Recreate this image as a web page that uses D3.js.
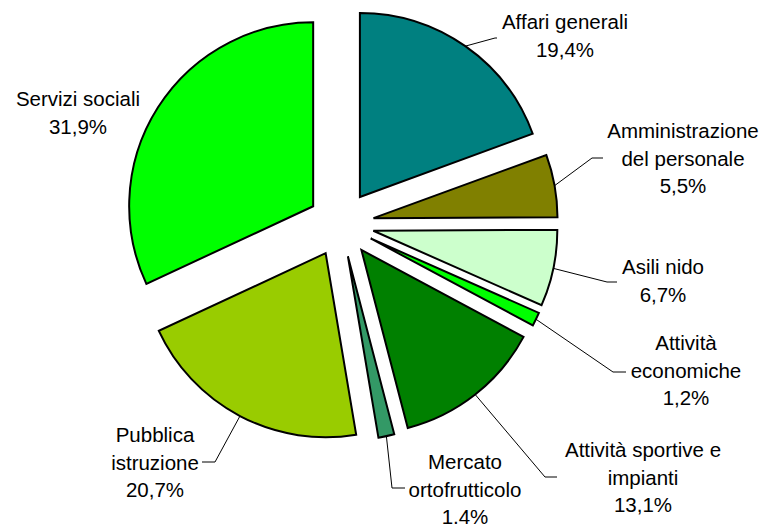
<!DOCTYPE html>
<html>
<head>
<meta charset="utf-8">
<script src="https://cdn.jsdelivr.net/npm/d3@7"></script>
<style>
  body { margin: 0; background: #fff; }
  svg text { font-family: "Liberation Sans", Arial, Helvetica, sans-serif; font-size: 20.5px; fill: #000; }
</style>
</head>
<body>
<svg width="769" height="524"></svg>
<script>
// data, clockwise from 12 o'clock
const categories = ['Affari generali', 'Amministrazione del personale', 'Asili nido', 'Attività economiche',
                    'Attività sportive e impianti', 'Mercato ortofrutticolo', 'Pubblica istruzione', 'Servizi sociali'];
const values = [19.4, 5.5, 6.7, 1.2, 13.1, 1.4, 20.7, 31.9];
const labelLines = [
  ['Affari generali', '19,4%'],
  ['Amministrazione', 'del personale', '5,5%'],
  ['Asili nido', '6,7%'],
  ['Attività', 'economiche', '1,2%'],
  ['Attività sportive e', 'impianti', '13,1%'],
  ['Mercato', 'ortofrutticolo', '1,4%'],
  ['Pubblica', 'istruzione', '20,7%'],
  ['Servizi sociali', '31,9%']
];
const colors = ['#008080', '#808000', '#CCFFCC', '#00FF00', '#008000', '#339966', '#99CC00', '#00FF00'];

// label placement (x = text centre, y = first baseline, elbow of leader line)
const labelPos = [
  {x: 565, y: 29,  ex: 495, ey: 38,  tx: 497},
  {x: 683, y: 138, ex: 592, ey: 158, tx: 603},
  {x: 663, y: 274, ex: 607, ey: 282, tx: 617},
  {x: 686, y: 350, ex: 613, ey: 372, tx: 626},
  {x: 643, y: 457, ex: 545, ey: 477, tx: 557},
  {x: 465, y: 469, ex: 392, ey: 488, tx: 405},
  {x: 155, y: 442, ex: 215, ey: 462, tx: 202},
  {x: 78,  y: 106, ex: null}
];

const cx = 341, cy = 224, radius = 184, explode = 33, lineGap = 27.7;

const svg = d3.select('svg');
const g = svg.append('g').attr('transform', `translate(${cx},${cy})`);

const pie = d3.pie().sort(null).value(d => d)(values);
const arc = d3.arc().innerRadius(0).outerRadius(radius);

function offset(d) {
  const a = (d.startAngle + d.endAngle) / 2;
  return [explode * Math.sin(a), -explode * Math.cos(a)];
}

g.selectAll('path.slice')
  .data(pie)
  .enter()
  .append('path')
  .attr('class', 'slice')
  .attr('d', arc)
  .attr('transform', d => `translate(${offset(d)})`)
  .attr('fill', (d, i) => colors[i])
  .attr('stroke', '#000')
  .attr('stroke-width', 2)
  .attr('stroke-linejoin', 'miter');

// leader lines: from the middle of the outer arc to the label
pie.forEach((d, i) => {
  const p = labelPos[i];
  if (p.ex === null) return;
  const a = (d.startAngle + d.endAngle) / 2;
  const [ox, oy] = offset(d);
  const sx = cx + ox + radius * Math.sin(a);
  const sy = cy + oy - radius * Math.cos(a);
  svg.append('polyline')
    .attr('points', `${sx},${sy} ${p.ex},${p.ey} ${p.tx},${p.ey}`)
    .attr('fill', 'none')
    .attr('stroke', '#000')
    .attr('stroke-width', 1);
});

const labels = svg.selectAll('text.lbl')
  .data(labelLines)
  .enter()
  .append('text')
  .attr('class', 'lbl')
  .attr('text-anchor', 'middle');

labels.each(function(lines, i) {
  const p = labelPos[i];
  d3.select(this).selectAll('tspan')
    .data(lines)
    .enter()
    .append('tspan')
    .attr('x', p.x)
    .attr('y', (l, k) => p.y + k * lineGap)
    .text(l => l);
});
</script>
</body>
</html>
